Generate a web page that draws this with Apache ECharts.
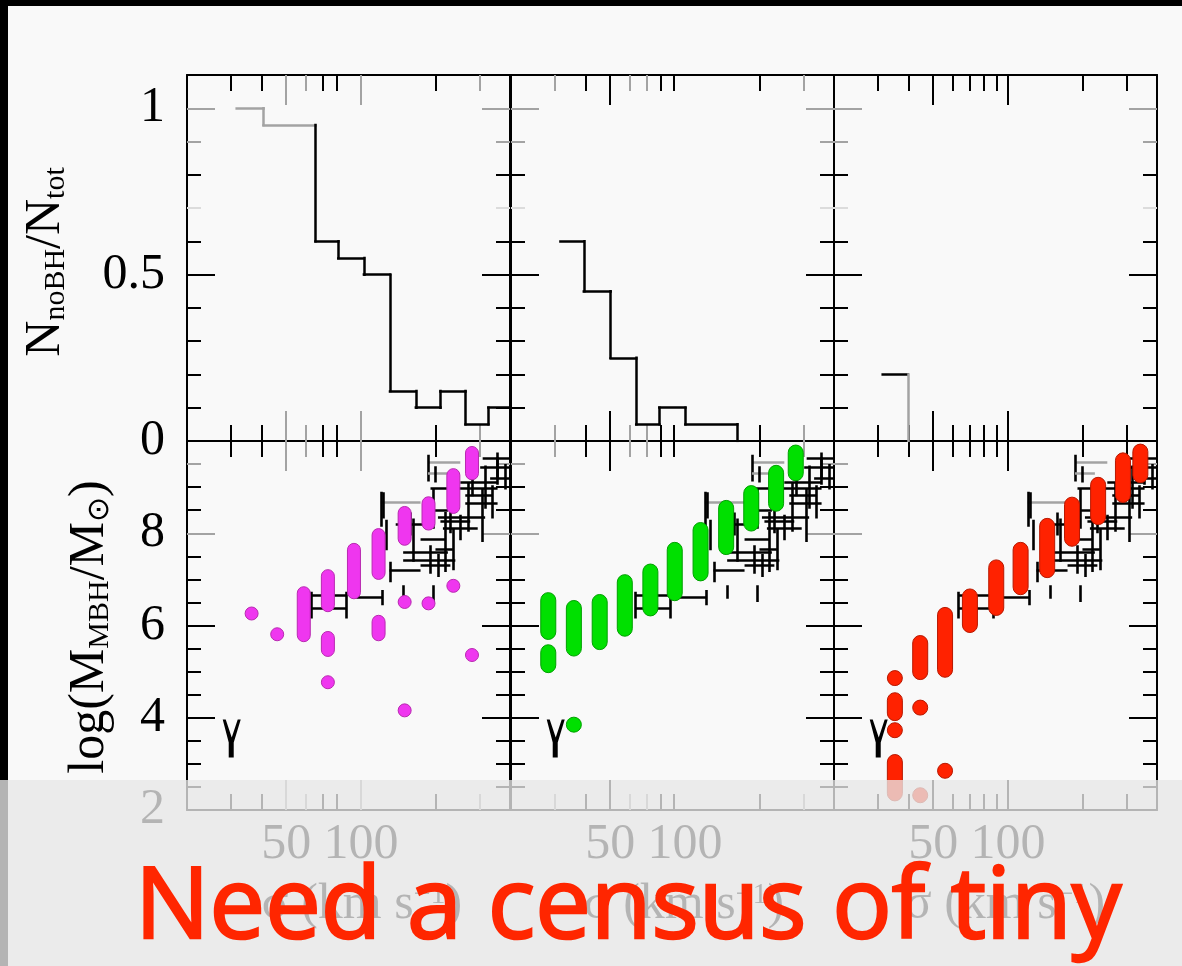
<!DOCTYPE html>
<html>
<head>
<meta charset="utf-8">
<script src="https://cdn.jsdelivr.net/npm/echarts@6/dist/echarts.min.js"></script>
<style>
  html, body { margin: 0; padding: 0; background: #f9f9f9; }
  #chart { width: 1182px; height: 966px; }
</style>
</head>
<body>
<div id="chart"></div>
<script>
// ---- tick values (sigma in km/s) per column ----
const sigmaMinorBlack = [[30, 40, 70, 80, 200], [40, 80, 90, 200], [30, 40, 60, 70, 80, 90, 200, 300]];
const sigmaMinorGray  = [[60, 300], [30, 60, 70, 300], []];
const sigmaMajorBlack = [[], [50], [50, 100]];
const sigmaMajorGray  = [[50, 100], [], []];
const sigmaLabels = [50, 100];

// ---- fraction axis (upper row) ----
const fracTicksMinorBlack = [0.1, 0.2, 0.3, 0.4, 0.6, 0.8];
const fracTicksMajorBlack = [0.5];
const fracTicksMinorGray  = [0.9];
const fracTicksMajorGray  = [1.0];
const fracTicksFaint      = [0.7];
const fracLabels = [0, 0.5, 1];

// ---- black hole mass axis (lower row) ----
const massTicksMinorBlack = [2.5, 3, 3.5, 4.5, 5, 5.5, 6.5, 7, 7.5, 8.5, 9];
const massTicksMajorBlack = [4, 6];
const massTicksMinorGray  = [9.5];
const massTicksMajorGray  = [8];
const massLabels = [2, 4, 6, 8];

// ---- histograms of galaxies without a hole: bin edges (log sigma) and fractions ----
const histEdges = [
  [1.5, 1.608, 1.817, 1.909, 2.012, 2.117, 2.221, 2.320, 2.421, 2.513, 2.6],
  [1.499, 1.593, 1.701, 1.804, 1.897, 2.002, 2.210],
  [1.496, 1.597]
];
const histFrac = [
  [1.0, 0.95, 0.6, 0.55, 0.5, 0.15, 0.1, 0.15, 0.05, 0.1],
  [0.6, 0.45, 0.25, 0.05, 0.1, 0.05],
  [0.2]
];
const histDropToZero = [false, true, true];
const histGrayBins = [[0, 1], [], []];
const histGrayDrop = [false, false, true];

// ---- model black holes: [log sigma, log M low, log M high] ----
const modelMagenta = [
  [1.56, 6.26, 6.26], [1.663, 5.81, 5.81], [1.77, 5.79, 6.70],
  [1.867, 6.44, 7.07], [1.867, 5.47, 5.73], [1.867, 4.77, 4.77],
  [1.972, 6.72, 7.64], [2.071, 7.14, 7.96], [2.071, 5.81, 6.08],
  [2.176, 7.88, 8.44], [2.176, 6.51, 6.51], [2.176, 4.16, 4.16],
  [2.272, 8.21, 8.65], [2.272, 6.48, 6.48],
  [2.372, 8.57, 9.26], [2.372, 6.86, 6.86],
  [2.447, 9.30, 9.74], [2.447, 5.36, 5.36]
];
const modelGreen = [
  [1.45, 5.86, 6.55], [1.45, 5.14, 5.42],
  [1.553, 5.50, 6.38], [1.553, 3.85, 3.85],
  [1.657, 5.64, 6.51], [1.758, 5.93, 6.94], [1.861, 6.37, 7.17],
  [1.959, 6.70, 7.64], [2.063, 7.13, 8.07], [2.166, 7.70, 8.55],
  [2.267, 8.21, 8.87], [2.367, 8.64, 9.31], [2.446, 9.30, 9.75]
];
const modelRed = [
  [1.545, 4.86, 4.86], [1.545, 4.10, 4.38], [1.545, 3.73, 3.73], [1.545, 2.36, 3.04],
  [1.647, 4.99, 5.62], [1.647, 4.22, 4.22], [1.647, 2.32, 2.32],
  [1.747, 5.04, 6.23], [1.747, 2.85, 2.85],
  [1.847, 6.01, 6.63], [1.953, 6.38, 7.26], [2.051, 6.83, 7.64],
  [2.158, 7.20, 8.16], [2.258, 7.88, 8.62], [2.363, 8.35, 9.05],
  [2.463, 8.83, 9.58], [2.533, 9.26, 9.77]
];

// ---- measured galaxies: [log sigma, log M, sigma low, sigma high, M low, M high, gray sigma bar] ----
const observed = [
  [2.27, 9.55, 2.27, 2.40, 9.12, 9.70, 1],
  [2.30, 9.30, 2.27, 2.35, 9.10, 9.45, 1],
  [2.55, 9.62, 2.49, 2.60, 9.05, 9.75, 0],
  [2.55, 9.44, 2.48, 2.60, 9.20, 9.65, 0],
  [2.50, 8.97, 2.28, 2.55, 8.53, 9.47, 0],
  [2.43, 8.82, 2.42, 2.53, 8.03, 9.11, 0],
  [2.53, 8.64, 2.42, 2.55, 8.32, 9.04, 0],
  [2.49, 8.35, 2.31, 2.50, 7.81, 8.97, 0],
  [2.29, 8.50, 2.25, 2.35, 8.10, 8.97, 0],
  [2.34, 7.88, 2.24, 2.34, 7.16, 8.46, 0],
  [2.21, 7.59, 2.17, 2.35, 7.38, 8.32, 0],
  [2.28, 7.41, 2.17, 2.38, 7.12, 7.74, 0],
  [2.12, 7.19, 2.115, 2.24, 6.94, 7.38, 0],
  [2.09, 8.68, 2.08, 2.24, 8.32, 8.89, 1],
  [2.17, 6.72, 2.17, 2.17, 6.58, 6.87, 0],
  [2.29, 6.69, 2.29, 2.29, 6.51, 6.87, 0],
  [2.087, 6.62, 1.98, 2.087, 6.44, 6.77, 0],
  [1.80, 6.66, 1.80, 1.94, 6.15, 6.73, 0],
  [1.94, 6.37, 1.80, 1.94, 6.15, 6.73, 0],
  [2.08, 8.50, 2.08, 2.08, 8.14, 8.90, 0],
  [2.10, 7.95, 2.10, 2.10, 7.63, 8.29, 0],
  [2.37, 7.65, 2.30, 2.37, 7.20, 8.10, 0],
  [2.45, 9.10, 2.40, 2.55, 8.80, 9.35, 0],
  [2.40, 8.10, 2.33, 2.47, 7.85, 8.40, 0],
  [2.31, 7.30, 2.24, 2.36, 7.05, 7.55, 0],
  [2.58, 9.20, 2.52, 2.60, 8.95, 9.50, 0],
  [2.20, 8.20, 2.14, 2.27, 7.95, 8.45, 0],
  [2.36, 8.25, 2.32, 2.44, 8.00, 8.60, 0]
];
const upperLimit = [1.48, 3.55];

// ---- layout / style ----
const X_RANGE = [1.3, 2.6];
const Y_RANGES = [[0, 1.1], [2, 10]];
const LEFTS = [187, 511, 834];
const WIDTH = 323;
const TOPS = [75, 441];
const HEIGHTS = [366, 369];
const GRAY = '#a3a3a3';
const FAINT = '#dcdcdc';
const SERIF = 'Liberation Serif, Times New Roman, serif';
const modelSets = [modelMagenta, modelGreen, modelRed];
const modelStyle = [
  { fill: '#ef36ef', stroke: '#b82ab0', w: 13 },
  { fill: '#00e000', stroke: '#00a000', w: 15 },
  { fill: '#ff2200', stroke: '#b81800', w: 15 }
];
const LIMIT_PATH = 'path://M0,0 L3,0 L9,18 L15,0 L18,0 L11,23 L11,38 L6,38 L6,23 Z';

const L = v => Math.log10(v);

const option = {
  animation: false,
  backgroundColor: '#f9f9f9',
  grid: [], xAxis: [], yAxis: [], series: [], graphic: []
};

function addAxis(dim, g, pos, range, o) {
  const ax = {
    type: 'value', gridIndex: g, position: pos, min: range[0], max: range[1],
    axisLine: { show: !!o.line, onZero: false, lineStyle: { color: '#000', width: 2 } },
    splitLine: { show: false },
    axisTick: { show: false },
    axisLabel: { show: false }
  };
  if (o.ticks) {
    ax.axisTick = { show: true, inside: true, length: o.len,
      lineStyle: { color: o.color, width: 2 }, customValues: o.ticks };
  }
  if (o.labels) {
    ax.axisLabel = { show: true, customValues: o.labels, fontFamily: SERIF, fontSize: 50,
      color: '#000', margin: dim === 'x' ? 10 : 22, formatter: o.fmt || (v => String(v)) };
  }
  const list = dim === 'x' ? option.xAxis : option.yAxis;
  list.push(ax);
  return list.length - 1;
}

const mainX = [], mainY = [];
for (let r = 0; r < 2; r++) {
  for (let c = 0; c < 3; c++) {
    const g = option.grid.length;
    option.grid.push({ left: LEFTS[c], top: TOPS[r], width: WIDTH, height: HEIGHTS[r] });
    const yr = Y_RANGES[r];
    mainX[g] = addAxis('x', g, 'bottom', X_RANGE, { line: true });
    addAxis('x', g, 'top', X_RANGE, { line: true });
    mainY[g] = addAxis('y', g, 'left', yr, { line: true });
    addAxis('y', g, 'right', yr, { line: true });
    const xg = [
      [sigmaMinorBlack[c], 16, '#000'], [sigmaMinorGray[c], 16, GRAY],
      [sigmaMajorBlack[c], 30, '#000'], [sigmaMajorGray[c], 30, GRAY]
    ];
    for (const pos of ['top', 'bottom']) {
      for (const [vals, len, col] of xg) {
        if (vals.length) addAxis('x', g, pos, X_RANGE, { ticks: vals.map(L), len, color: col });
      }
    }
    const yg = r === 0
      ? [[fracTicksMinorBlack, 14, '#000'], [fracTicksMajorBlack, 28, '#000'],
         [fracTicksMinorGray, 14, GRAY], [fracTicksMajorGray, 28, GRAY], [fracTicksFaint, 14, FAINT]]
      : [[massTicksMinorBlack, 14, '#000'], [massTicksMajorBlack, 28, '#000'],
         [massTicksMinorGray, 14, GRAY], [massTicksMajorGray, 28, GRAY]];
    for (const pos of ['left', 'right']) {
      for (const [vals, len, col] of yg) addAxis('y', g, pos, yr, { ticks: vals, len, color: col });
    }
    if (c === 0) addAxis('y', g, 'left', yr, { labels: r === 0 ? fracLabels : massLabels });
    if (r === 1) addAxis('x', g, 'bottom', X_RANGE, {
      labels: sigmaLabels.map(L), fmt: v => String(Math.round(Math.pow(10, v)))
    });
  }
}

function histSegments(p) {
  const e = histEdges[p], f = histFrac[p], segs = [];
  for (let i = 0; i < f.length; i++) {
    const col = histGrayBins[p].includes(i) ? GRAY : '#000';
    if (i > 0) segs.push({ coords: [[e[i], f[i - 1]], [e[i], f[i]]], lineStyle: { color: col } });
    segs.push({ coords: [[e[i], f[i]], [e[i + 1], f[i]]], lineStyle: { color: col } });
  }
  if (histDropToZero[p]) {
    const n = f.length;
    segs.push({ coords: [[e[n], f[n - 1]], [e[n], 0]],
      lineStyle: { color: histGrayDrop[p] ? GRAY : '#000' } });
  }
  return segs;
}

function observedSegments() {
  const segs = [];
  for (const [x, y, xlo, xhi, ylo, yhi, gray] of observed) {
    if (xhi > xlo) segs.push({ coords: [[xlo, y], [xhi, y]], lineStyle: { color: gray ? GRAY : '#000' } });
    if (yhi > ylo) segs.push({ coords: [[x, ylo], [x, yhi]], lineStyle: { color: '#000' } });
  }
  return segs;
}

function columnRenderer(st) {
  return function (params, api) {
    const x = api.value(0), lo = api.value(1), hi = api.value(2);
    const pt = api.coord([x, hi]), pb = api.coord([x, lo]);
    const w = st.w;
    return {
      type: 'rect',
      shape: { x: pt[0] - w / 2, y: pt[1] - w / 2, width: w, height: pb[1] - pt[1] + w, r: w / 2 },
      style: { fill: st.fill, stroke: st.stroke, lineWidth: 1 }
    };
  };
}

for (let c = 0; c < 3; c++) {
  option.series.push({
    type: 'lines', coordinateSystem: 'cartesian2d', xAxisIndex: mainX[c], yAxisIndex: mainY[c],
    data: histSegments(c), silent: true, z: 3,
    lineStyle: { width: 2.5, opacity: 1, color: '#000', cap: 'square' }
  });
}
for (let c = 0; c < 3; c++) {
  const g = 3 + c;
  option.series.push({
    type: 'lines', coordinateSystem: 'cartesian2d', xAxisIndex: mainX[g], yAxisIndex: mainY[g],
    data: observedSegments(), silent: true, z: 3,
    lineStyle: { width: 2.6, opacity: 1, color: '#000' }
  });
  option.series.push({
    type: 'scatter', xAxisIndex: mainX[g], yAxisIndex: mainY[g], data: [upperLimit],
    symbol: LIMIT_PATH, symbolSize: [18, 38], silent: true, z: 3,
    itemStyle: { color: '#000', opacity: 1 }
  });
  option.series.push({
    type: 'custom', xAxisIndex: mainX[g], yAxisIndex: mainY[g], data: modelSets[c],
    renderItem: columnRenderer(modelStyle[c]), silent: true, z: 4
  });
}

const sub = { fontSize: 30, fontFamily: SERIF, lineHeight: 10, verticalAlign: 'bottom' };
const main = { fontSize: 50, fontFamily: SERIF, lineHeight: 50 };
const sup = { fontSize: 30, fontFamily: SERIF, lineHeight: 30, verticalAlign: 'top' };

option.graphic = [
  { type: 'rect', shape: { x: 0, y: 0, width: 1182, height: 6 }, style: { fill: '#000' }, z: 1 },
  { type: 'rect', shape: { x: 0, y: 0, width: 8, height: 966 }, style: { fill: '#000' }, z: 1 },
  { type: 'text', x: 46, y: 262, rotation: Math.PI / 2, z: 5,
    style: { text: '{m|N}{s|noBH}{m|/N}{s|tot}', rich: { m: main, s: sub },
      align: 'center', verticalAlign: 'middle', fill: '#000' } },
  { type: 'text', x: 90, y: 627, rotation: Math.PI / 2, z: 5,
    style: { text: '{m|log(M}{s|MBH}{m|/M}{s|⊙}{m|)}', rich: { m: main, s: sub },
      align: 'center', verticalAlign: 'middle', fill: '#000' } },
  ...[362, 684, 1005].map(cx => ({
    type: 'text', x: cx, y: 905, z: 50,
    style: { text: '{m|σ (km s}{p|−1}{m|)}', rich: { m: main, p: sup },
      align: 'center', verticalAlign: 'middle', fill: '#000' }
  })),
  { type: 'rect', shape: { x: 0, y: 780, width: 1182, height: 186 },
    style: { fill: 'rgba(231,231,231,0.78)' }, z: 100 },
  { type: 'text', x: 135, y: 910, z: 101,
    style: { text: 'Need a census of tiny', fontSize: 99, fontWeight: 'normal',
      fontFamily: 'Open Sans, Lato, sans-serif',
      fill: '#ff2600', stroke: '#ff2600', lineWidth: 2.5, align: 'left', verticalAlign: 'middle',
      shadowColor: 'rgba(0,0,0,0.75)', shadowBlur: 3, shadowOffsetX: 3, shadowOffsetY: 3 } }
];

const chart = echarts.init(document.getElementById('chart'), null, { renderer: 'canvas' });
chart.setOption(option);
</script>
</body>
</html>
